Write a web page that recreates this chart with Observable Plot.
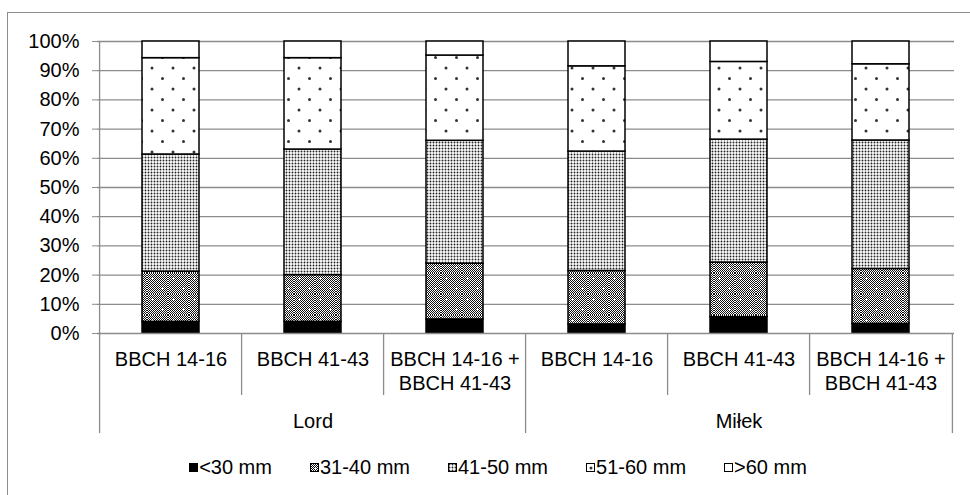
<!DOCTYPE html>
<html><head><meta charset="utf-8">
<script src="https://cdn.jsdelivr.net/npm/d3@7"></script>
<script src="https://cdn.jsdelivr.net/npm/@observablehq/plot@0.6"></script>
<style>
html,body{margin:0;padding:0;background:#fff;overflow:hidden;width:970px;height:495px;}
body{position:relative;font-family:"Liberation Sans",Arial,sans-serif;}
#frame{position:absolute;left:7px;top:12px;width:1000px;height:600px;border:1px solid #8c8c8c;box-sizing:border-box;}
#chart{position:absolute;left:0;top:0;}
#chart svg{overflow:visible;}
g[aria-label="y-axis tick"]{color:#8c8c8c;}
#legend{position:absolute;left:0;top:454px;width:996px;height:26px;display:flex;justify-content:center;align-items:center;font-size:20px;color:#000;}
#legend .item{display:flex;align-items:center;margin:0 19px;white-space:nowrap;}
#legend svg{margin-right:1px;}
</style></head>
<body>
<svg width="0" height="0" style="position:absolute">
  <defs>
    <pattern id="checker" width="2" height="2" patternUnits="userSpaceOnUse">
      <rect width="2" height="2" fill="#fff"/>
      <rect x="0" y="0" width="1" height="1" fill="#111"/>
      <rect x="1" y="1" width="1" height="1" fill="#111"/>
    </pattern>
    <pattern id="p3140" width="21" height="21" patternUnits="userSpaceOnUse">
      <rect width="21" height="21" fill="url(#checker)"/>
      <rect x="4" y="5" width="3" height="1" fill="#fff"/><rect x="5" y="4" width="1" height="3" fill="#fff"/>
      <rect x="14" y="15" width="3" height="1" fill="#fff"/><rect x="15" y="14" width="1" height="3" fill="#fff"/>
    </pattern>
    <pattern id="p4150" width="3" height="3" patternUnits="userSpaceOnUse">
      <rect width="3" height="3" fill="#fff"/>
      <circle cx="1.5" cy="1.5" r="0.95" fill="#222"/>
    </pattern>
    <pattern id="p5160" width="21" height="21" patternUnits="userSpaceOnUse">
      <rect width="21" height="21" fill="#fff"/>
      <circle cx="5" cy="5" r="1.5" fill="#333"/>
      <circle cx="15.5" cy="15.5" r="1.5" fill="#333"/>
    </pattern>
  </defs>
</svg>
<div id="frame"></div>
<div id="chart"></div>
<div id="legend"></div>
<script>
// ---- data ----
const cultivars = ["Lord", "Lord", "Lord", "Miłek", "Miłek", "Miłek"];
const stages = ["BBCH 14-16", "BBCH 41-43", "BBCH 14-16 +\nBBCH 41-43", "BBCH 14-16", "BBCH 41-43", "BBCH 14-16 +\nBBCH 41-43"];
const sizeClasses = ["<30 mm", "31-40 mm", "41-50 mm", "51-60 mm", ">60 mm"];
const under30 = [4.0, 4.0, 4.8, 3.1, 5.6, 3.3];
const s31to40 = [17.2, 16.0, 19.1, 18.3, 18.7, 18.8];
const s41to50 = [40.1, 43.0, 42.1, 40.9, 42.1, 44.0];
const s51to60 = [33.0, 31.3, 29.2, 29.2, 26.6, 26.1];
const over60 = [5.7, 5.7, 4.8, 8.5, 7.0, 7.8];
const yTicks = [0, 10, 20, 30, 40, 50, 60, 70, 80, 90, 100];

// ---- build table ----
const series = [under30, s31to40, s41to50, s51to60, over60];
const keys = cultivars.map((c, i) => c + "|" + i);
const rows = [];
keys.forEach((k, i) => sizeClasses.forEach((s, j) => rows.push({key: k, size: s, value: series[j][i]})));
const catLabels = keys.map((k, i) => ({key: k, label: stages[i]}));
const groupLabels = [{key: keys[1], label: cultivars[1]}, {key: keys[4], label: cultivars[4]}];
const fills = ["#000", "url(#p3140)", "url(#p4150)", "url(#p5160)", "#fff"];

// ---- layout ----
const W = 970, H = 445, mL = 97, mR = 16, mT = 41, mB = 112;
const step = (W - mL - mR) / keys.length;
const pxPerUnit = (H - mT - mB) / 100;
const depth1 = 62 / pxPerUnit, depth2 = 100 / pxPerUnit;
const grey = "#8c8c8c";

const chart = Plot.plot({
  width: W, height: H,
  marginLeft: mL, marginRight: mR, marginTop: mT, marginBottom: mB,
  style: {fontFamily: "'Liberation Sans', Arial, sans-serif", fontSize: "20px", color: "#000", background: "transparent"},
  x: {domain: keys, paddingInner: 0.6, paddingOuter: 0.3, axis: null},
  y: {domain: [0, 100], ticks: yTicks, tickFormat: d => d + "%", tickSize: 5, tickPadding: 13, label: null},
  color: {type: "ordinal", domain: sizeClasses, range: fills},
  marks: [
    Plot.ruleY(yTicks.filter(d => d > 0), {stroke: grey, strokeWidth: 1.3}),
    Plot.barY(rows, {x: "key", y: "value", fill: "size", stroke: "#000", strokeWidth: 1.5}),
    Plot.ruleY([0], {stroke: grey, strokeWidth: 1.3}),
    Plot.ruleX([keys[0]], {x: d => d, y1: 100, y2: -depth2, dx: -step / 2, stroke: grey, strokeWidth: 1.3}),
    Plot.ruleX([keys[3]], {x: d => d, y1: 0, y2: -depth2, dx: -step / 2, stroke: grey, strokeWidth: 1.3}),
    Plot.ruleX([keys[5]], {x: d => d, y1: 0, y2: -depth2, dx: step / 2, stroke: grey, strokeWidth: 1.3}),
    Plot.ruleX([keys[1], keys[2], keys[4], keys[5]], {x: d => d, y1: 0, y2: -depth1, dx: -step / 2, stroke: grey, strokeWidth: 1.3}),
    Plot.text(catLabels, {x: "key", y: 0, text: "label", dy: 15, lineAnchor: "top", lineHeight: 1.2, fontSize: 20, fill: "#000"}),
    Plot.text(groupLabels, {x: "key", y: 0, text: "label", dy: 88, lineAnchor: "middle", fontSize: 20, fill: "#000"})
  ]
});
document.getElementById("chart").appendChild(chart);

// ---- legend ----
const legend = document.getElementById("legend");
sizeClasses.forEach((s, j) => {
  const item = document.createElement("div");
  item.className = "item";
  item.innerHTML = `<svg width="9" height="9"><rect x="0.5" y="0.5" width="8" height="8" fill="${fills[j]}" stroke="#000" stroke-width="1"/></svg><span>${s.replace("<", "&lt;").replace(">", "&gt;")}</span>`;
  legend.appendChild(item);
});
</script>
</body></html>
